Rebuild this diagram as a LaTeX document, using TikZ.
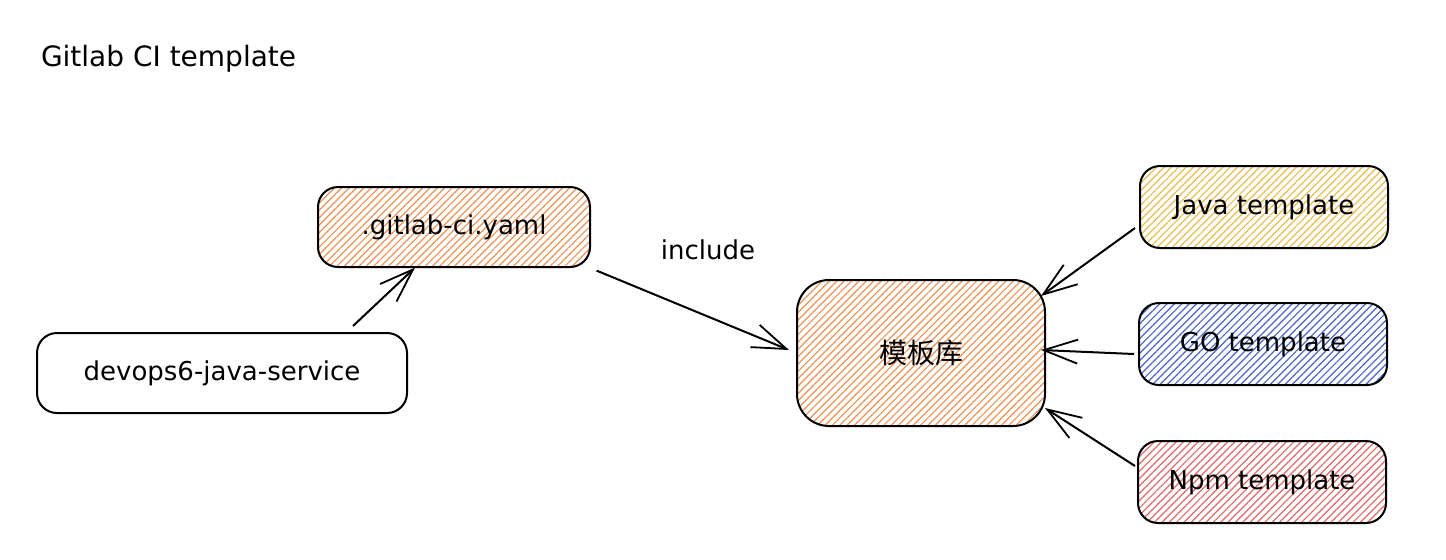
\documentclass[tikz,border=0pt]{standalone}
\usepackage{fontspec}
\setmainfont{DejaVu Sans}
\newfontfamily\cjk{Noto Sans CJK SC}
\usetikzlibrary{arrows.meta,patterns.meta}
\definecolor{hatchorange}{RGB}{236,146,88}
\definecolor{hatchyellow}{RGB}{232,188,80}
\definecolor{hatchblue}{RGB}{72,100,200}
\definecolor{hatchred}{RGB}{222,104,104}

\begin{document}
\begin{tikzpicture}[x=0.5pt,y=-0.5pt,line width=1pt,
  font=\fontsize{13}{15}\selectfont,
  box/.style = {draw, rounded corners=10pt, minimum height=40pt},
  hatch/.style = {box, pattern={Lines[angle=45,distance=2.6pt,line width=0.6pt]}, pattern color=#1},
  arr/.style = {-{Straight Barb[length=17pt,width=12pt,line width=0.9pt]}}]
\useasboundingbox (0,0) rectangle (1446,559);
\node[anchor=west, inner sep=0pt, font=\fontsize{14}{16}\selectfont] (title) at (40,59) {Gitlab CI template};
\node[hatch=hatchorange, minimum width=136pt] (gitlab) at (454,227) {.gitlab-ci.yaml};
\node[box, minimum width=185pt] (devops) at (222,373) {devops6-java-service};
\node[hatch=hatchorange, rounded corners=16pt, minimum width=124pt, minimum height=73pt] (repo) at (921,353) {\cjk\fontsize{14}{16}\selectfont 模板库};
\node[hatch=hatchyellow, minimum width=124pt, minimum height=41pt] (java) at (1264,207) {Java template};
\node[hatch=hatchblue, minimum width=124pt, minimum height=41pt] (go) at (1263,344) {GO template};
\node[hatch=hatchred, minimum width=124pt, minimum height=41pt] (npm) at (1262,482) {Npm template};
\node (include) at (708,250) {include};
\draw[arr] ([xshift=65.5pt,yshift=3pt]devops.north) -- ([xshift=-19.5pt]gitlab.south);
\draw[arr] ([xshift=3pt,yshift=-1.5pt]gitlab.south east) -- ([xshift=-3.5pt,yshift=1.5pt]repo.west);
\draw[arr] ([xshift=-2pt,yshift=-10.5pt]java.west) -- ([xshift=-2.5pt,yshift=-8.5pt]repo.north east);
\draw[arr] ([xshift=-2pt,yshift=-5pt]go.west) -- ([xshift=-2.5pt,yshift=1.5pt]repo.east);
\draw[arr] ([xshift=-1pt,yshift=8pt]npm.west) -- ([xshift=-0.5pt,yshift=9.5pt]repo.south east);
\end{tikzpicture}
\end{document}
